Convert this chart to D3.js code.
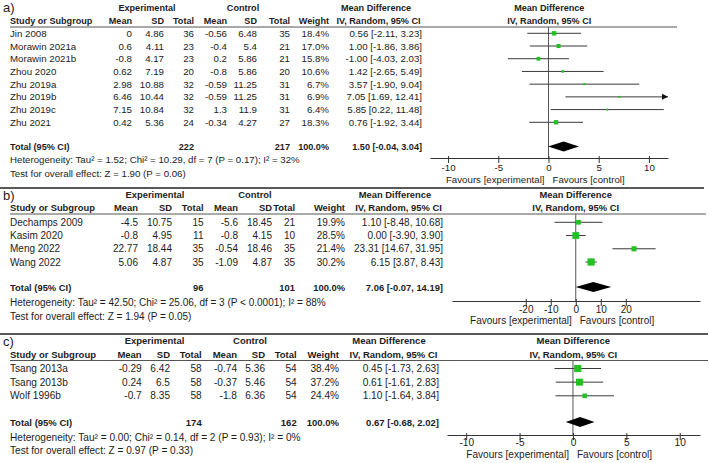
<!DOCTYPE html>
<html><head><meta charset="utf-8">
<script src="https://cdn.jsdelivr.net/npm/d3@7"></script>
<style>
body{margin:0;background:#fff;}
svg{display:block;font-family:"Liberation Sans",Arial,sans-serif;}
</style></head>
<body><svg id="chart" width="709" height="463"></svg>
<script>
// ---------- Panel a ----------
const studiesA = ["Jin 2008","Morawin 2021a","Morawin 2021b","Zhou 2020","Zhu 2019a","Zhu 2019b","Zhu 2019c","Zhu 2021"];
const expMeanA = [0,0.6,-0.8,0.62,2.98,6.46,7.15,0.42];
const expSDA   = [4.86,4.11,4.17,7.19,10.88,10.44,10.84,5.36];
const expNA    = [36,23,23,20,32,32,32,24];
const ctlMeanA = [-0.56,-0.4,0.2,-0.8,-0.59,-0.59,1.3,-0.34];
const ctlSDA   = [6.48,5.4,5.86,5.86,11.25,11.25,11.9,4.27];
const ctlNA    = [35,21,21,20,31,31,31,27];
const weightA  = [18.4,17.0,15.8,10.6,6.7,6.9,6.4,18.3];
const mdA      = [0.56,1.00,-1.00,1.42,3.57,7.05,5.85,0.76];
const loA      = [-2.11,-1.86,-4.03,-2.65,-1.90,1.69,0.22,-1.92];
const hiA      = [3.23,3.86,2.03,5.49,9.04,12.41,11.48,3.44];
const totalA   = {expN:222, ctlN:217, md:1.50, lo:-0.04, hi:3.04};
const hetA  = "Heterogeneity: Tau² = 1.52; Chi² = 10.29, df = 7 (P = 0.17); I² = 32%";
const testA = "Test for overall effect: Z = 1.90 (P = 0.06)";
const ticksA = [-10,-5,0,5,10];

// ---------- Panel b ----------
const studiesB = ["Dechamps 2009","Kasim 2020","Meng 2022","Wang 2022"];
const expMeanB = [-4.5,-0.8,22.77,5.06];
const expSDB   = [10.75,4.95,18.44,4.87];
const expNB    = [15,11,35,35];
const ctlMeanB = [-5.6,-0.8,-0.54,-1.09];
const ctlSDB   = [18.45,4.15,18.46,4.87];
const ctlNB    = [21,10,35,35];
const weightB  = [19.9,28.5,21.4,30.2];
const mdB      = [1.10,0.00,23.31,6.15];
const loB      = [-8.48,-3.90,14.67,3.87];
const hiB      = [10.68,3.90,31.95,8.43];
const totalB   = {expN:96, ctlN:101, md:7.06, lo:-0.07, hi:14.19};
const hetB  = "Heterogeneity: Tau² = 42.50; Chi² = 25.06, df = 3 (P < 0.0001); I² = 88%";
const testB = "Test for overall effect: Z = 1.94 (P = 0.05)";
const ticksB = [-20,-10,0,10,20];

// ---------- Panel c ----------
const studiesC = ["Tsang 2013a","Tsang 2013b","Wolf 1996b"];
const expMeanC = [-0.29,0.24,-0.7];
const expSDC   = [6.42,6.5,8.35];
const expNC    = [58,58,58];
const ctlMeanC = [-0.74,-0.37,-1.8];
const ctlSDC   = [5.36,5.46,6.36];
const ctlNC    = [54,54,54];
const weightC  = [38.4,37.2,24.4];
const mdC      = [0.45,0.61,1.10];
const loC      = [-1.73,-1.61,-1.64];
const hiC      = [2.63,2.83,3.84];
const totalC   = {expN:174, ctlN:162, md:0.67, lo:-0.68, hi:2.02};
const hetC  = "Heterogeneity: Tau² = 0.00; Chi² = 0.14, df = 2 (P = 0.93); I² = 0%";
const testC = "Test for overall effect: Z = 0.97 (P = 0.33)";
const ticksC = [-10,-5,0,5,10];

const svg = d3.select("#chart");
const TXT = "#1c1c1c", GREEN = "#22c022", LINE = "#3a3a3a";
const f2 = v => v.toFixed(2);
const ciText = (m,l,h) => `${f2(m)} [${f2(l)}, ${f2(h)}]`;

function drawPanel(L, D){
  const g = svg.append("g");
  const txt = (x,y,s,opt={}) => g.append("text").attr("x",x).attr("y",y)
      .attr("font-size", opt.size||(opt.bold?L.fsB:L.fsR)).attr("font-weight", opt.bold?"bold":"normal")
      .attr("text-anchor", opt.anchor||"start").attr("fill", TXT).text(s);

  if (L.divider!=null) g.append("line").attr("x1",0).attr("x2",L.dividerEnd)
      .attr("y1",L.divider).attr("y2",L.divider).attr("stroke","#222").attr("stroke-width",1.6);

  txt(3, L.labelY, D.label, {size:13});
  txt(L.expC, L.groupY, "Experimental", {bold:true, anchor:"middle"});
  txt(L.ctlC, L.groupY, "Control", {bold:true, anchor:"middle"});
  txt(L.mdC1, L.groupY, "Mean Difference", {bold:true, anchor:"middle"});
  txt(L.zeroX, L.groupY, "Mean Difference", {bold:true, anchor:"middle"});

  const cols = L.cols; // right edges
  const hdr = ["Mean","SD","Total","Mean","SD","Total","Weight"];
  txt(10, L.hdrY, "Study or Subgroup", {bold:true});
  hdr.forEach((h,i)=> txt(cols[i], L.hdrY, h, {bold:true, anchor:"end"}));
  txt(L.mdC2, L.hdrY, "IV, Random, 95% CI", {bold:true, anchor:"middle"});
  txt(L.zeroX, L.hdrY, "IV, Random, 95% CI", {bold:true, anchor:"middle"});
  g.append("line").attr("x1",10).attr("x2",L.hdrLineEnd).attr("y1",L.hdrLine).attr("y2",L.hdrLine)
    .attr("stroke","#555").attr("stroke-width",1);

  const n = D.studies.length;
  const y = d3.scaleLinear().domain([0, n-1]).range([L.row0, L.rowN]);
  const x = d3.scaleLinear().domain(L.domain).range(L.range);
  const size = d3.scaleLinear().domain([0, d3.max(D.weight)]).range([0, L.maxSq]);

  D.studies.forEach((s,i)=>{
    const yy = y(i) + 3.5;
    txt(10, yy, s);
    const vals = [String(D.expMean[i]), String(D.expSD[i]), String(D.expN[i]),
                  String(D.ctlMean[i]), String(D.ctlSD[i]), String(D.ctlN[i]),
                  D.weight[i].toFixed(1)+"%"];
    vals.forEach((v,j)=> txt(cols[j], yy, v, {anchor:"end"}));
    txt(L.mdR, yy, ciText(D.md[i], D.lo[i], D.hi[i]), {anchor:"end"});
  });

  // zero line
  g.append("line").attr("x1",x(0)).attr("x2",x(0)).attr("y1",L.hdrLine).attr("y2",L.axisY)
    .attr("stroke","#555").attr("stroke-width",1);

  // CI lines + squares
  D.studies.forEach((s,i)=>{
    const x1 = x(Math.max(D.lo[i], L.domain[0])), x2 = x(Math.min(D.hi[i], L.domain[1]));
    g.append("line").attr("x1",x1).attr("x2",x2).attr("y1",y(i)).attr("y2",y(i))
      .attr("stroke",LINE).attr("stroke-width",1);
    if (D.hi[i] > L.domain[1]) {
      g.append("path").attr("d",`M${x2},${y(i)} l-6,-3 l0,6 z`).attr("fill","#111");
    }
    const sz = Math.max(2, size(D.weight[i]));
    g.append("rect").attr("x",x(D.md[i])-sz/2).attr("y",y(i)-sz/2)
      .attr("width",sz).attr("height",sz).attr("fill",GREEN);
  });

  // total row
  const ty = L.totalY;
  txt(10, ty+3.5, "Total (95% CI)", {bold:true});
  txt(cols[2], ty+3.5, String(D.total.expN), {bold:true, anchor:"end"});
  txt(cols[5], ty+3.5, String(D.total.ctlN), {bold:true, anchor:"end"});
  txt(cols[6], ty+3.5, "100.0%", {bold:true, anchor:"end"});
  txt(L.mdR, ty+3.5, ciText(D.total.md, D.total.lo, D.total.hi), {bold:true, anchor:"end"});
  const t = D.total;
  g.append("path").attr("d",`M${x(t.lo)},${ty} L${x(t.md)},${ty-5} L${x(t.hi)},${ty} L${x(t.md)},${ty+5} Z`)
    .attr("fill","#000");

  txt(10, L.hetY, D.het);
  txt(10, L.testY, D.test);

  // axis
  const ax = d3.axisBottom(x).tickValues(D.ticks).tickSize(5).tickSizeOuter(0)
    .tickPadding(L.tickPad).tickFormat(d=>String(d));
  const ag = g.append("g").attr("transform",`translate(0,${L.axisY})`).call(ax);
  ag.select(".domain").attr("stroke","#333");
  ag.selectAll(".tick line").attr("stroke","#333").attr("y1",-2);
  ag.selectAll(".tick text").attr("font-size",L.fsR).attr("fill",TXT)
    .attr("font-family","Liberation Sans, Arial, sans-serif");
  txt(x(0)-4, L.favY, "Favours [experimental]", {anchor:"end"});
  txt(x(0)+4, L.favY, "Favours [control]");
}

drawPanel({
  fsB:9.1, fsR:9.7, divider:null, labelY:12, groupY:11, hdrY:23.5, hdrLine:27, hdrLineEnd:677,
  expC:147, ctlC:243, mdC1:376, mdC2:378.5, zeroX:549.3,
  cols:[132,164,194,227,257,290,329], mdR:422,
  row0:33.3, rowN:122.3, totalY:146.5, hetY:163, testY:176.5,
  domain:[-11.8,11.9], range:[430,668], axisY:158, tickPad:1.5, favY:183, maxSq:4.4
},{label:"a)", studies:studiesA, expMean:expMeanA, expSD:expSDA, expN:expNA,
   ctlMean:ctlMeanA, ctlSD:ctlSDA, ctlN:ctlNA, weight:weightA, md:mdA, lo:loA, hi:hiA,
   total:totalA, het:hetA, test:testA, ticks:ticksA});

drawPanel({
  fsB:9.4, fsR:10, divider:188, dividerEnd:704, labelY:200, groupY:198, hdrY:211, hdrLine:214, hdrLineEnd:706,
  expC:155, ctlC:255, mdC1:395, mdC2:398.5, zeroX:575.7,
  cols:[138,172,203.5,238,272,295,345], mdR:443,
  row0:222.3, rowN:262, totalY:287, hetY:306, testY:320,
  domain:[-49.5,49.7], range:[452,700], axisY:301, tickPad:0.3, favY:324, maxSq:7.2
},{label:"b)", studies:studiesB, expMean:expMeanB, expSD:expSDB, expN:expNB,
   ctlMean:ctlMeanB, ctlSD:ctlSDB, ctlN:ctlNB, weight:weightB, md:mdB, lo:loB, hi:hiB,
   total:totalB, het:hetB, test:testB, ticks:ticksB});

drawPanel({
  fsB:9.5, fsR:10.1, divider:334, dividerEnd:708, labelY:346, groupY:344, hdrY:357.5, hdrLine:360.5, hdrLineEnd:708,
  expC:154.5, ctlC:250, mdC1:389, mdC2:393.5, zeroX:573.3,
  cols:[141.7,170,201.7,237,265,296.7,339], mdR:439,
  row0:368.5, rowN:395.8, totalY:422, hetY:441, testY:453.5,
  domain:[-11.8,11.9], range:[447,700], axisY:435, tickPad:-0.8, favY:457.5, maxSq:7.2
},{label:"c)", studies:studiesC, expMean:expMeanC, expSD:expSDC, expN:expNC,
   ctlMean:ctlMeanC, ctlSD:ctlSDC, ctlN:ctlNC, weight:weightC, md:mdC, lo:loC, hi:hiC,
   total:totalC, het:hetC, test:testC, ticks:ticksC});
</script></body></html>
